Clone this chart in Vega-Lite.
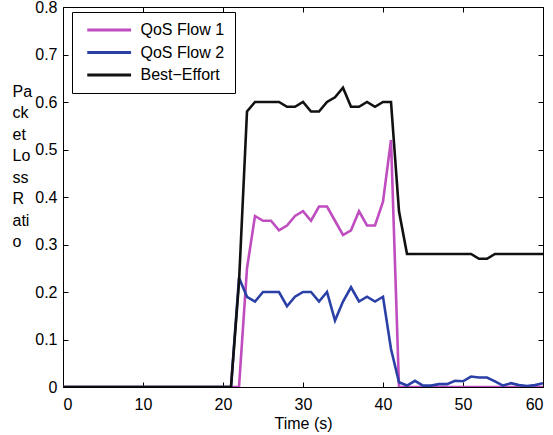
{
  "$schema": "https://vega.github.io/schema/vega-lite/v6.json",
  "width": 480,
  "height": 380,
  "autosize": "none",
  "padding": {"left": 63, "top": 7, "right": 10, "bottom": 48},
  "background": "white",
  "config": {
    "font": "Liberation Sans",
    "view": {"stroke": "black", "strokeWidth": 1},
    "axis": {"grid": false, "labelFontSize": 16, "labelColor": "black", "titleFontSize": 16, "titleColor": "black", "titleFontWeight": "normal", "tickColor": "black", "domain": false, "tickSize": -5, "labelFont": "Liberation Sans", "titleFont": "Liberation Sans"},
    "legend": {"labelFont": "Liberation Sans"}
  },
  "data": {
    "values": [
      {"t": 0, "QoS Flow 1": 0, "QoS Flow 2": 0, "Best−Effort": 0},
      {"t": 1, "QoS Flow 1": 0, "QoS Flow 2": 0, "Best−Effort": 0},
      {"t": 2, "QoS Flow 1": 0, "QoS Flow 2": 0, "Best−Effort": 0},
      {"t": 3, "QoS Flow 1": 0, "QoS Flow 2": 0, "Best−Effort": 0},
      {"t": 4, "QoS Flow 1": 0, "QoS Flow 2": 0, "Best−Effort": 0},
      {"t": 5, "QoS Flow 1": 0, "QoS Flow 2": 0, "Best−Effort": 0},
      {"t": 6, "QoS Flow 1": 0, "QoS Flow 2": 0, "Best−Effort": 0},
      {"t": 7, "QoS Flow 1": 0, "QoS Flow 2": 0, "Best−Effort": 0},
      {"t": 8, "QoS Flow 1": 0, "QoS Flow 2": 0, "Best−Effort": 0},
      {"t": 9, "QoS Flow 1": 0, "QoS Flow 2": 0, "Best−Effort": 0},
      {"t": 10, "QoS Flow 1": 0, "QoS Flow 2": 0, "Best−Effort": 0},
      {"t": 11, "QoS Flow 1": 0, "QoS Flow 2": 0, "Best−Effort": 0},
      {"t": 12, "QoS Flow 1": 0, "QoS Flow 2": 0, "Best−Effort": 0},
      {"t": 13, "QoS Flow 1": 0, "QoS Flow 2": 0, "Best−Effort": 0},
      {"t": 14, "QoS Flow 1": 0, "QoS Flow 2": 0, "Best−Effort": 0},
      {"t": 15, "QoS Flow 1": 0, "QoS Flow 2": 0, "Best−Effort": 0},
      {"t": 16, "QoS Flow 1": 0, "QoS Flow 2": 0, "Best−Effort": 0},
      {"t": 17, "QoS Flow 1": 0, "QoS Flow 2": 0, "Best−Effort": 0},
      {"t": 18, "QoS Flow 1": 0, "QoS Flow 2": 0, "Best−Effort": 0},
      {"t": 19, "QoS Flow 1": 0, "QoS Flow 2": 0, "Best−Effort": 0},
      {"t": 20, "QoS Flow 1": 0, "QoS Flow 2": 0, "Best−Effort": 0},
      {"t": 21, "QoS Flow 1": 0, "QoS Flow 2": 0, "Best−Effort": 0},
      {"t": 22, "QoS Flow 1": 0, "QoS Flow 2": 0.23, "Best−Effort": 0.22},
      {"t": 23, "QoS Flow 1": 0.25, "QoS Flow 2": 0.19, "Best−Effort": 0.58},
      {"t": 24, "QoS Flow 1": 0.36, "QoS Flow 2": 0.18, "Best−Effort": 0.60},
      {"t": 25, "QoS Flow 1": 0.35, "QoS Flow 2": 0.20, "Best−Effort": 0.60},
      {"t": 26, "QoS Flow 1": 0.35, "QoS Flow 2": 0.20, "Best−Effort": 0.60},
      {"t": 27, "QoS Flow 1": 0.33, "QoS Flow 2": 0.20, "Best−Effort": 0.60},
      {"t": 28, "QoS Flow 1": 0.34, "QoS Flow 2": 0.17, "Best−Effort": 0.59},
      {"t": 29, "QoS Flow 1": 0.36, "QoS Flow 2": 0.19, "Best−Effort": 0.59},
      {"t": 30, "QoS Flow 1": 0.37, "QoS Flow 2": 0.20, "Best−Effort": 0.60},
      {"t": 31, "QoS Flow 1": 0.35, "QoS Flow 2": 0.20, "Best−Effort": 0.58},
      {"t": 32, "QoS Flow 1": 0.38, "QoS Flow 2": 0.18, "Best−Effort": 0.58},
      {"t": 33, "QoS Flow 1": 0.38, "QoS Flow 2": 0.20, "Best−Effort": 0.60},
      {"t": 34, "QoS Flow 1": 0.35, "QoS Flow 2": 0.14, "Best−Effort": 0.61},
      {"t": 35, "QoS Flow 1": 0.32, "QoS Flow 2": 0.18, "Best−Effort": 0.63},
      {"t": 36, "QoS Flow 1": 0.33, "QoS Flow 2": 0.21, "Best−Effort": 0.59},
      {"t": 37, "QoS Flow 1": 0.37, "QoS Flow 2": 0.18, "Best−Effort": 0.59},
      {"t": 38, "QoS Flow 1": 0.34, "QoS Flow 2": 0.19, "Best−Effort": 0.60},
      {"t": 39, "QoS Flow 1": 0.34, "QoS Flow 2": 0.18, "Best−Effort": 0.59},
      {"t": 40, "QoS Flow 1": 0.39, "QoS Flow 2": 0.19, "Best−Effort": 0.60},
      {"t": 41, "QoS Flow 1": 0.52, "QoS Flow 2": 0.08, "Best−Effort": 0.60},
      {"t": 42, "QoS Flow 1": 0, "QoS Flow 2": 0.01, "Best−Effort": 0.37},
      {"t": 43, "QoS Flow 1": 0, "QoS Flow 2": 0.003, "Best−Effort": 0.28},
      {"t": 44, "QoS Flow 1": 0, "QoS Flow 2": 0.013, "Best−Effort": 0.28},
      {"t": 45, "QoS Flow 1": 0, "QoS Flow 2": 0.003, "Best−Effort": 0.28},
      {"t": 46, "QoS Flow 1": 0, "QoS Flow 2": 0.003, "Best−Effort": 0.28},
      {"t": 47, "QoS Flow 1": 0, "QoS Flow 2": 0.006, "Best−Effort": 0.28},
      {"t": 48, "QoS Flow 1": 0, "QoS Flow 2": 0.006, "Best−Effort": 0.28},
      {"t": 49, "QoS Flow 1": 0, "QoS Flow 2": 0.013, "Best−Effort": 0.28},
      {"t": 50, "QoS Flow 1": 0, "QoS Flow 2": 0.012, "Best−Effort": 0.28},
      {"t": 51, "QoS Flow 1": 0, "QoS Flow 2": 0.022, "Best−Effort": 0.28},
      {"t": 52, "QoS Flow 1": 0, "QoS Flow 2": 0.02, "Best−Effort": 0.27},
      {"t": 53, "QoS Flow 1": 0, "QoS Flow 2": 0.02, "Best−Effort": 0.27},
      {"t": 54, "QoS Flow 1": 0, "QoS Flow 2": 0.012, "Best−Effort": 0.28},
      {"t": 55, "QoS Flow 1": 0, "QoS Flow 2": 0.003, "Best−Effort": 0.28},
      {"t": 56, "QoS Flow 1": 0, "QoS Flow 2": 0.008, "Best−Effort": 0.28},
      {"t": 57, "QoS Flow 1": 0, "QoS Flow 2": 0.004, "Best−Effort": 0.28},
      {"t": 58, "QoS Flow 1": 0, "QoS Flow 2": 0.002, "Best−Effort": 0.28},
      {"t": 59, "QoS Flow 1": 0, "QoS Flow 2": 0.004, "Best−Effort": 0.28},
      {"t": 60, "QoS Flow 1": 0, "QoS Flow 2": 0.008, "Best−Effort": 0.28}
    ]
  },
  "transform": [{"fold": ["QoS Flow 1", "QoS Flow 2", "Best−Effort"], "as": ["series", "value"]}],
  "layer": [
    {
      "mark": {"type": "line", "strokeWidth": 2.6, "clip": true},
      "encoding": {
        "x": {"field": "t", "type": "quantitative", "scale": {"domain": [0, 60], "nice": false, "zero": false},
          "axis": {"orient": "bottom", "values": [0, 10, 20, 30, 40, 50, 60], "title": "Time (s)", "labelPadding": 14, "titlePadding": 3}},
        "y": {"field": "value", "type": "quantitative", "scale": {"domain": [0, 0.8], "nice": false},
          "axis": {"orient": "left", "values": [0, 0.1, 0.2, 0.3, 0.4, 0.5, 0.6, 0.7, 0.8],
            "labelExpr": "datum.value == 0 ? '0' : format(datum.value, '.1f')", "labelPadding": 11,
            "title": ["Pa", "ck", "et", "Lo", "ss", "R", "ati", "o"], "titleAngle": 0, "titleAlign": "left", "titleBaseline": "top",
            "titleX": -51, "titleY": 76, "titleLineHeight": 21.5}},
        "color": {"field": "series", "type": "nominal",
          "scale": {"domain": ["QoS Flow 1", "QoS Flow 2", "Best−Effort"], "range": ["#bf4dbf", "#2b40a6", "#111111"]},
          "legend": {"title": null, "orient": "none", "legendX": 9, "legendY": 5, "strokeColor": "black", "fillColor": "white",
            "padding": 10, "labelFontSize": 16, "labelColor": "black", "symbolType": "M-1,0H15", "symbolSize": 30, "symbolStrokeWidth": 3,
            "rowPadding": 6.5, "labelOffset": 42.5, "labelLimit": 300}}
      }
    },
    {
      "mark": {"type": "line", "opacity": 0},
      "encoding": {
        "x": {"field": "t", "type": "quantitative", "axis": {"orient": "top", "values": [0, 10, 20, 30, 40, 50, 60], "labels": false, "title": null}},
        "y": {"field": "value", "type": "quantitative", "axis": {"orient": "right", "values": [0, 0.1, 0.2, 0.3, 0.4, 0.5, 0.6, 0.7, 0.8], "labels": false, "title": null}}
      }
    }
  ],
  "resolve": {"axis": {"x": "independent", "y": "independent"}}
}
